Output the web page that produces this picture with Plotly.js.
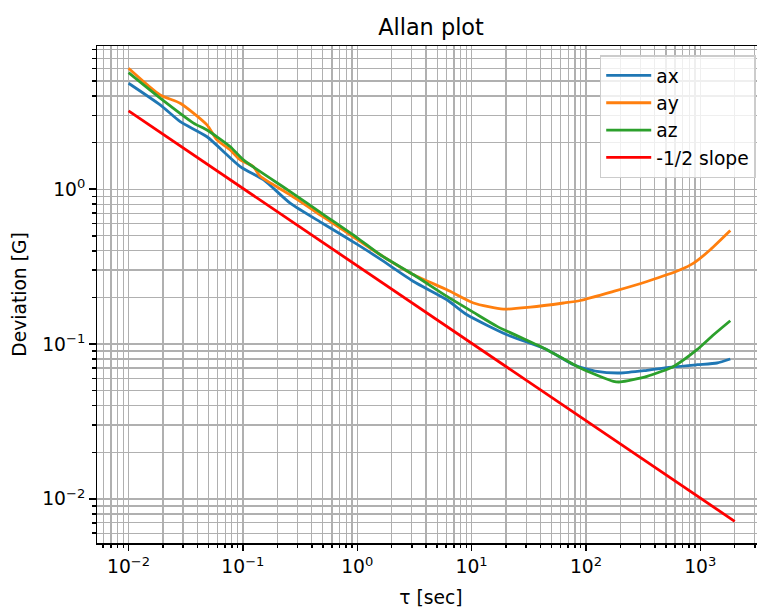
<!DOCTYPE html>
<html><head><meta charset="utf-8">
<script src="https://cdn.plot.ly/plotly-3.0.1.min.js"></script>
<style>html,body{margin:0;padding:0;overflow:hidden;background:#fff}</style>
</head><body>
<div id="chart" style="width:780px;height:608px"></div>
<script>
// ---- data ----
const tau_ax = [0.01, 0.0189, 0.0283, 0.0485, 0.0948, 0.152, 0.259, 0.5, 1.0, 1.59, 3.11, 6.09, 9.12, 20.4, 45.6, 78, 125, 200, 342, 584, 936, 1400, 1830];
const ax     = [4.83, 3.50, 2.73, 2.18, 1.40, 1.148, 0.812, 0.60, 0.44, 0.3535, 0.2535, 0.193, 0.1545, 0.1148, 0.0919, 0.0735, 0.0665, 0.065, 0.0676, 0.0711, 0.0735, 0.0754, 0.080];

const tau_ay = [0.01, 0.0189, 0.0283, 0.0485, 0.0593, 0.0776, 0.0948, 0.123, 0.142, 0.259, 0.5, 1.0, 1.59, 3.11, 6.09, 10.4, 19.0, 32.6, 63.7, 89.2, 174, 342, 668, 874, 1223, 1830];
const ay     = [6.04, 4.06, 3.59, 2.60, 2.08, 1.79, 1.546, 1.40, 1.21, 0.919, 0.665, 0.473, 0.377, 0.280, 0.224, 0.184, 0.168, 0.173, 0.184, 0.191, 0.2185, 0.2535, 0.3015, 0.333, 0.406, 0.54];

const tau_az = [0.01, 0.0189, 0.037, 0.0485, 0.0776, 0.101, 0.259, 0.5, 1.0, 1.59, 3.11, 6.09, 10.4, 16.7, 45.6, 89.2, 174, 200, 342, 584, 936, 1307, 1830];
const az     = [5.65, 3.87, 2.67, 2.41, 1.88, 1.546, 0.965, 0.69, 0.485, 0.377, 0.28, 0.203, 0.160, 0.130, 0.0919, 0.070, 0.0574, 0.0569, 0.0618, 0.0717, 0.0919, 0.1148, 0.1414];

const tau_slope = [0.01, 2000];
const slope     = [3.2, 0.00716];

const seriesNames  = ['ax', 'ay', 'az', '-1/2 slope'];
const seriesColors = ['#1f77b4', '#ff7f0e', '#2ca02c', '#ff0000'];

const xTickVals = [0.01, 0.1, 1, 10, 100, 1000];
const xTickText = ['10<sup>\u22122</sup>', '10<sup>\u22121</sup>', '10<sup>0</sup>', '10<sup>1</sup>', '10<sup>2</sup>', '10<sup>3</sup>'];
const yTickVals = [0.01, 0.1, 1];
const yTickText = ['10<sup>\u22122</sup>', '10<sup>\u22121</sup>', '10<sup>0</sup>'];

// ---- chart ----
const FONT = 'DejaVu Sans';
const xs = [tau_ax, tau_ay, tau_az, tau_slope];
const ys = [ax, ay, az, slope];
const traces = xs.map((x, i) => ({
  x: x, y: ys[i], name: seriesNames[i], type: 'scatter', mode: 'lines',
  line: {color: seriesColors[i], width: 2.8, shape: i < 3 ? 'spline' : 'linear', smoothing: 0.6}
}));

const gridC = '#b0b0b0';
function axisCommon() {
  return {
    type: 'log', showline: true, linecolor: '#000', linewidth: 1.5, mirror: true,
    ticks: 'outside', ticklen: 6.5, tickwidth: 1.5, tickcolor: '#000',
    showgrid: true, gridcolor: gridC, gridwidth: 1.3, zeroline: false,
    tickmode: 'array', tickfont: {family: FONT, size: 18.7, color: '#000'},
    minor: {tickmode: 'linear', dtick: 'D1', ticks: 'outside', ticklen: 3.7, tickwidth: 1.5,
            tickcolor: '#000', showgrid: true, gridcolor: gridC, gridwidth: 1.3},
    automargin: false
  };
}
const xaxis = Object.assign(axisCommon(), {
  range: [-2.276, 3.566], tickvals: xTickVals, ticktext: xTickText,
  title: {text: '\u03c4 [sec]', font: {family: FONT, size: 18.7, color: '#000'}, standoff: 14}
});
const yaxis = Object.assign(axisCommon(), {
  range: [-2.285, 0.9245], tickvals: yTickVals, ticktext: yTickText,
  title: {text: 'Deviation [G]', font: {family: FONT, size: 18.7, color: '#000'}, standoff: 10}
});

const layout = {
  width: 780, height: 608,
  margin: {l: 96.7, r: 15.3, t: 46, b: 64.5, pad: 0},
  paper_bgcolor: '#fff', plot_bgcolor: '#fff',
  font: {family: FONT, color: '#000'},
  title: {text: 'Allan plot', font: {family: FONT, size: 22.4, color: '#000'},
          xref: 'paper', x: 0.5, xanchor: 'center', yref: 'paper', y: 1, yanchor: 'bottom', pad: {b: 11}},
  xaxis: xaxis, yaxis: yaxis,
  showlegend: true,
  legend: {x: 0.9861, xanchor: 'right', y: 0.9813, yanchor: 'top',
           bgcolor: 'rgba(255,255,255,0.8)', bordercolor: '#cccccc', borderwidth: 1.5,
           font: {family: FONT, size: 18.7, color: '#000'}, itemwidth: 45}
};

Plotly.newPlot('chart', traces, layout, {displayModeBar: false, staticPlot: true});
</script>
</body></html>
